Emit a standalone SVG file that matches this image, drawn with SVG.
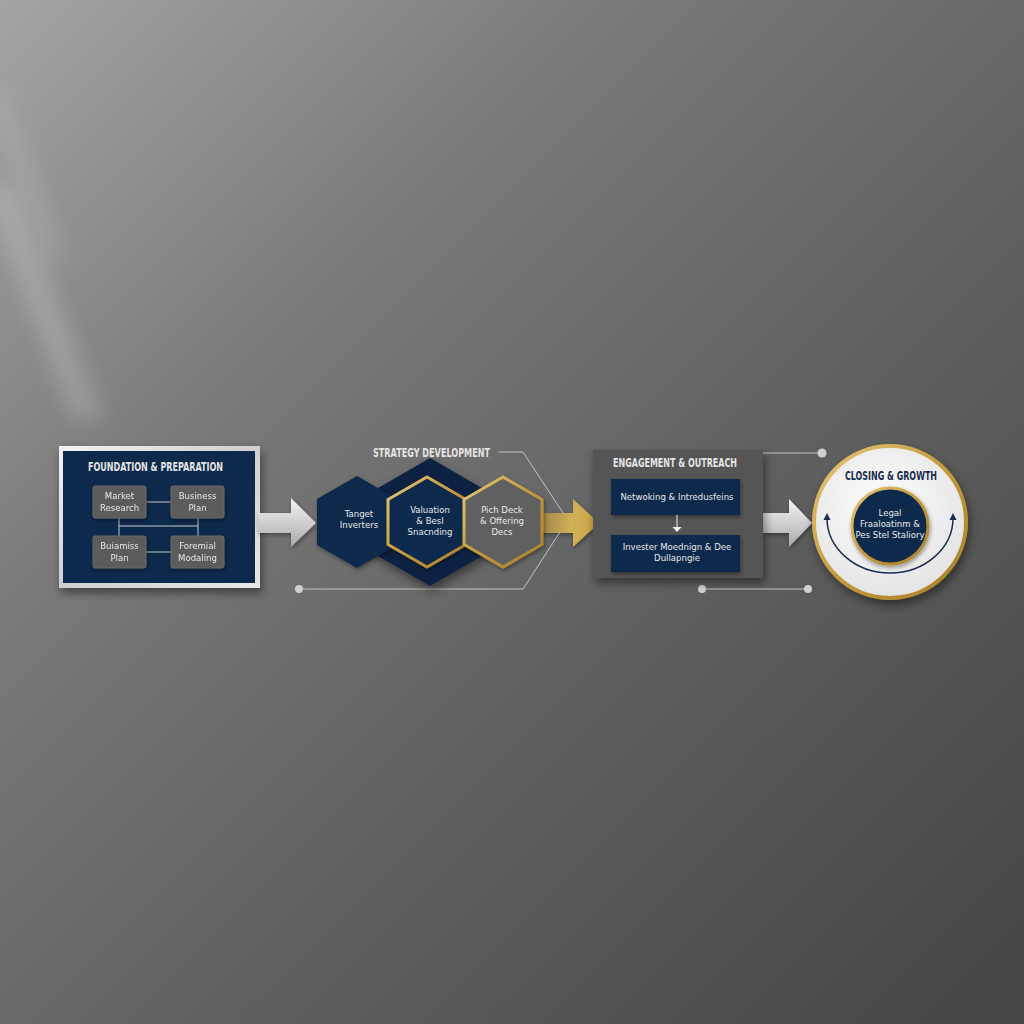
<svg xmlns="http://www.w3.org/2000/svg" width="1024" height="1024" viewBox="0 0 1024 1024">
<defs>
  <linearGradient id="bg" x1="0" y1="0" x2="1" y2="1">
    <stop offset="0" stop-color="#a4a4a4"/>
    <stop offset="0.3" stop-color="#7a7a7a"/>
    <stop offset="0.6" stop-color="#606060"/>
    <stop offset="1" stop-color="#444444"/>
  </linearGradient>
  <linearGradient id="silver" x1="0" y1="0" x2="1" y2="1">
    <stop offset="0" stop-color="#f4f4f4"/>
    <stop offset="0.5" stop-color="#cfcfcf"/>
    <stop offset="1" stop-color="#e8e8e8"/>
  </linearGradient>
  <linearGradient id="arrowSilver" x1="0" y1="0" x2="0" y2="1">
    <stop offset="0" stop-color="#f2f2f2"/>
    <stop offset="0.5" stop-color="#d0d0d0"/>
    <stop offset="1" stop-color="#a8a8a8"/>
  </linearGradient>
  <linearGradient id="gold" x1="0" y1="0" x2="1" y2="1">
    <stop offset="0" stop-color="#e6c878"/>
    <stop offset="0.5" stop-color="#c49a3c"/>
    <stop offset="1" stop-color="#a97f2a"/>
  </linearGradient>
  <linearGradient id="goldArrow" x1="0" y1="0" x2="1" y2="0">
    <stop offset="0" stop-color="#8c7440"/>
    <stop offset="0.6" stop-color="#d2b05a"/>
    <stop offset="1" stop-color="#c9a444"/>
  </linearGradient>
  <radialGradient id="disc" cx="0.45" cy="0.4" r="0.6">
    <stop offset="0" stop-color="#ffffff"/>
    <stop offset="1" stop-color="#e4e4e4"/>
  </radialGradient>
  <filter id="shadow" x="-20%" y="-20%" width="140%" height="150%">
    <feDropShadow dx="2" dy="5" stdDeviation="5" flood-color="#000" flood-opacity="0.45"/>
  </filter>
  <filter id="soft" x="-20%" y="-20%" width="140%" height="140%">
    <feDropShadow dx="1" dy="2" stdDeviation="2" flood-color="#000" flood-opacity="0.4"/>
  </filter>
  <filter id="blur" x="-50%" y="-50%" width="200%" height="200%">
    <feGaussianBlur stdDeviation="10"/>
  </filter>
  <style>
    .title{font-family:"Liberation Sans Narrow","DejaVu Sans Condensed","Roboto",sans-serif;font-weight:bold;font-size:12px;fill:#e4e4e4}
    .lbl{font-family:"Liberation Sans Narrow","DejaVu Sans Condensed","Roboto",sans-serif;font-size:9.5px;fill:#e8e8e8;text-anchor:middle}
    .navy{fill:#112a4d}
    .gbox{fill:#5b5b5b;stroke:#6a6a6a;stroke-width:1}
    .conn{stroke:#c8c8c8;stroke-width:1;fill:none}
    .lead{stroke:#c4c4c4;stroke-width:1;fill:none}
    .dot{fill:#d0d0d0}
  </style>
</defs>

<rect width="1024" height="1024" fill="url(#bg)"/>
<g filter="url(#blur)">
  <path d="M -20 185 L 12 185 L 105 420 L 72 420 Z" fill="#ffffff" opacity="0.18"/>
  <path d="M -20 90 L 5 90 L 70 260 L 45 260 Z" fill="#ffffff" opacity="0.1"/>
</g>

<!-- Node 1: Foundation & Preparation -->
<g id="foundation" filter="url(#shadow)">
  <rect x="59" y="446" width="201" height="142" fill="url(#silver)"/>
  <rect x="63" y="451" width="192" height="132" class="navy"/>
</g>
<g id="foundation-content">
  <text class="title" x="88" y="471" textLength="135" lengthAdjust="spacingAndGlyphs">FOUNDATION &amp; PREPARATION</text>
  <g class="conn">
    <line x1="146" y1="502" x2="171" y2="502"/>
    <line x1="119" y1="518" x2="119" y2="536"/>
    <line x1="198" y1="518" x2="198" y2="536"/>
    <line x1="119" y1="526" x2="198" y2="526"/>
    <line x1="146" y1="552" x2="171" y2="552"/>
  </g>
  <g id="market-research" filter="url(#soft)">
    <rect class="gbox" x="93" y="486" width="53" height="32" rx="2"/>
    <text class="lbl" x="119.5" y="499">Market</text>
    <text class="lbl" x="119.5" y="511">Research</text>
  </g>
  <g id="business-plan" filter="url(#soft)">
    <rect class="gbox" x="171" y="486" width="53" height="32" rx="2"/>
    <text class="lbl" x="197.5" y="499">Business</text>
    <text class="lbl" x="197.5" y="511">Plan</text>
  </g>
  <g id="buiamiss-plan" filter="url(#soft)">
    <rect class="gbox" x="93" y="536" width="53" height="32" rx="2"/>
    <text class="lbl" x="119.5" y="549">Buiamiss</text>
    <text class="lbl" x="119.5" y="561">Plan</text>
  </g>
  <g id="foremial-modaling" filter="url(#soft)">
    <rect class="gbox" x="171" y="536" width="53" height="32" rx="2"/>
    <text class="lbl" x="197.5" y="549">Foremial</text>
    <text class="lbl" x="197.5" y="561">Modaling</text>
  </g>
</g>

<!-- Connectors -->
<g id="connectors">
  <path filter="url(#soft)" d="M 258 513 L 291 513 L 291 498 L 316 523 L 291 547 L 291 533 L 258 533 Z" fill="url(#arrowSilver)"/>
  <path filter="url(#soft)" d="M 530 513 L 573 513 L 573 499 L 599 523 L 573 547 L 573 533 L 530 533 Z" fill="url(#goldArrow)"/>
  <path filter="url(#soft)" d="M 763 513 L 789 513 L 789 499 L 812 523 L 789 547 L 789 533 L 763 533 Z" fill="url(#arrowSilver)"/>
  <polyline class="lead" points="499,452 523,452 563,513"/>
  <polyline class="lead" points="299,589 523,589 560,532"/>
  <circle class="dot" cx="299" cy="589" r="4"/>
  <line class="lead" x1="763" y1="453" x2="820" y2="453"/>
  <circle class="dot" cx="822" cy="453" r="4.5"/>
  <line class="lead" x1="702" y1="589" x2="808" y2="589"/>
  <circle class="dot" cx="702" cy="589" r="4"/>
  <circle class="dot" cx="808" cy="589" r="4"/>
</g>

<!-- Node 2: Strategy Development -->
<g id="strategy">
  <text class="title" x="373" y="457" textLength="117" lengthAdjust="spacingAndGlyphs">STRATEGY DEVELOPMENT</text>
  <polygon filter="url(#shadow)" points="430,458 485.4,490 485.4,554 430,586 374.6,554 374.6,490" fill="#0e2343"/>
  <g id="target-investers">
    <polygon filter="url(#soft)" points="357,476 397,499 397,545 357,568 317,545 317,499" class="navy"/>
    <text class="lbl" x="359" y="517">Tanget</text>
    <text class="lbl" x="359" y="528">Inverters</text>
  </g>
  <g id="valuation">
    <polygon filter="url(#soft)" points="427,477 466,499.5 466,544.5 427,567 388,544.5 388,499.5" class="navy" stroke="url(#gold)" stroke-width="3"/>
    <text class="lbl" x="430" y="513">Valuation</text>
    <text class="lbl" x="430" y="524">&amp; Besl</text>
    <text class="lbl" x="430" y="535">Snacnding</text>
  </g>
  <g id="pitch-deck">
    <polygon filter="url(#soft)" points="503,477 542,499.5 542,544.5 503,567 464,544.5 464,499.5" fill="#616161" stroke="url(#gold)" stroke-width="3"/>
    <text class="lbl" x="502" y="513">Pich Deck</text>
    <text class="lbl" x="502" y="524">&amp; Offering</text>
    <text class="lbl" x="502" y="535">Decs</text>
  </g>
</g>

<!-- Node 3: Engagement & Outreach -->
<g id="engagement">
  <rect filter="url(#shadow)" x="593" y="450" width="170" height="128" fill="#555555"/>
  <text class="title" x="613" y="467" font-size="11.5" textLength="124" lengthAdjust="spacingAndGlyphs">ENGAGEMENT &amp; OUTREACH</text>
  <g id="networking">
    <rect filter="url(#soft)" x="611" y="479" width="129" height="36" class="navy"/>
    <text class="lbl" x="677" y="500">Netwoking &amp; Intredusfeins</text>
  </g>
  <line x1="677" y1="515" x2="677" y2="528" stroke="#f0f0f0" stroke-width="1"/>
  <polygon points="672.5,527 681.5,527 677,532" fill="#f0f0f0"/>
  <g id="investor-meetings">
    <rect filter="url(#soft)" x="611" y="535" width="129" height="37" class="navy"/>
    <text class="lbl" x="677" y="550">Invester Moednign &amp; Dee</text>
    <text class="lbl" x="677" y="561">Dullapngie</text>
  </g>
</g>

<!-- Node 4: Closing & Growth -->
<g id="closing">
  <circle filter="url(#shadow)" cx="890" cy="522" r="76" fill="url(#disc)" stroke="url(#gold)" stroke-width="4"/>
  <text class="title" x="845" y="480" textLength="92" lengthAdjust="spacingAndGlyphs" style="fill:#1b2d4f">CLOSING &amp; GROWTH</text>
  <path d="M 827 518 A 63 55 0 0 0 953 518" fill="none" stroke="#1b2d4f" stroke-width="1.5"/>
  <polygon points="823.5,520 830.5,520 827,513" fill="#1b2d4f"/>
  <polygon points="949.5,520 956.5,520 953,513" fill="#1b2d4f"/>
  <g id="legal">
    <circle filter="url(#soft)" cx="890" cy="526" r="38" class="navy" stroke="url(#gold)" stroke-width="3"/>
    <text class="lbl" x="890" y="516">Legal</text>
    <text class="lbl" x="890" y="527">Fraaloatinm &amp;</text>
    <text class="lbl" x="890" y="538">Pes Stel Staliory</text>
  </g>
</g>
</svg>
